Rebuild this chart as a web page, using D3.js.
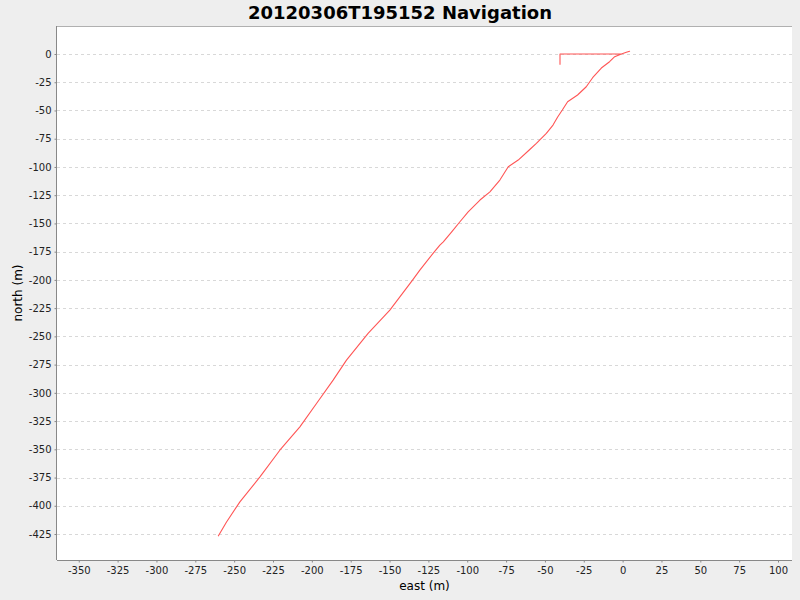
<!DOCTYPE html>
<html>
<head>
<meta charset="utf-8">
<script src="https://cdn.jsdelivr.net/npm/d3@7"></script>
<style>
  body { margin: 0; background: #eeeeee; }
  text { font-family: "DejaVu Sans", sans-serif; }
</style>
</head>
<body>
<div id="chart"></div>
<script>
// Track, east (m) and north (m), in drawing order.
var east = [-40.3, -40.3, -0.8, 2.4, 4.5, 2.4, -0.8, -5.1, -8.4, -13.7, -19.3, -23.4, -29.0, -35.4, -38.8,
  -41.8, -44.8, -49.1, -55.5, -60.1, -67.2, -73.6, -79.0, -85.4, -91.8, -99.4, -104.7, -110.0, -115.4,
  -117.6, -122.0, -130.5, -135.2, -149.8, -163.8, -177.7, -186.3, -197.0, -207.7, -220.6, -233.4, -246.3,
  -254.9, -260.3];
var north = [-9.5, 0, 0, 1.5, 2.4, 1.5, 0, -2.4, -6.8, -12.4, -21.0, -29.0, -36.3, -42.2, -49.6,
  -55.8, -62.9, -70.2, -79.1, -85.0, -93.9, -99.8, -111.6, -122.0, -129.3, -139.7, -148.5, -157.4, -166.3,
  -169.2, -176.5, -191.3, -200.2, -226.7, -247.4, -271.0, -288.7, -309.4, -330.1, -350.8, -374.4, -396.5,
  -414.3, -426.9];
var xTicks = d3.range(-350, 101, 25);
var yTicks = d3.range(0, -426, -25);

var width = 800, height = 600;
var margin = {top: 26, right: 8, bottom: 40, left: 57};

var svg = d3.select("#chart").append("svg")
    .attr("width", width)
    .attr("height", height);

svg.append("rect")
    .attr("width", width)
    .attr("height", height)
    .attr("fill", "#eeeeee");

var x = d3.scaleLinear()
    .domain([-364, 109])
    .range([margin.left, width - margin.right]);

var y = d3.scaleLinear()
    .domain([24.8, -448])
    .range([margin.top, height - margin.bottom]);

// plot background
svg.append("rect")
    .attr("x", margin.left)
    .attr("y", margin.top)
    .attr("width", width - margin.left - margin.right)
    .attr("height", height - margin.top - margin.bottom)
    .attr("fill", "#ffffff");

// horizontal grid only
svg.append("g").selectAll("line")
    .data(yTicks)
  .enter().append("line")
    .attr("x1", margin.left)
    .attr("x2", width - margin.right)
    .attr("y1", function(d) { return Math.round(y(d)) + 0.5; })
    .attr("y2", function(d) { return Math.round(y(d)) + 0.5; })
    .attr("stroke", "#d8d8d8")
    .attr("stroke-dasharray", "3,3");

// top outline
svg.append("line")
    .attr("x1", margin.left)
    .attr("x2", width - margin.right)
    .attr("y1", margin.top + 0.5)
    .attr("y2", margin.top + 0.5)
    .attr("stroke", "#b0b0b0");

// track
var line = d3.line()
    .x(function(d) { return x(east[d]); })
    .y(function(d) { return y(north[d]); });

svg.append("path")
    .datum(d3.range(east.length))
    .attr("d", line)
    .attr("fill", "none")
    .attr("stroke", "#ff5555")
    .attr("stroke-width", 1.1)
    .attr("stroke-linejoin", "round");

// axes
var xAxis = svg.append("g")
    .attr("transform", "translate(0," + (height - margin.bottom + 0.5) + ")")
    .call(d3.axisBottom(x).tickValues(xTicks).tickSize(2).tickPadding(4.5)
      .tickSizeOuter(0));

var yAxis = svg.append("g")
    .attr("transform", "translate(" + (margin.left - 0.5) + ",0)")
    .call(d3.axisLeft(y).tickValues(yTicks).tickSize(2).tickPadding(3)
      .tickSizeOuter(0));

[xAxis, yAxis].forEach(function(a) {
  a.selectAll("path, line").attr("stroke", "#888888");
  a.selectAll("text")
      .attr("fill", "#222222")
      .style("font-size", "10px")
      .style("font-family", "DejaVu Sans, sans-serif");
});
// d3 formats negatives with a minus sign; the picture uses a hyphen
svg.selectAll(".tick text").text(function(d) { return String(d); });
yAxis.select(".domain").attr("d", "M0," + margin.top + "V" + (height - margin.bottom));
xAxis.select(".domain").attr("d", "M" + margin.left + ",0H" + (width - margin.right));

// labels
svg.append("text")
    .attr("x", width / 2)
    .attr("y", 19)
    .attr("text-anchor", "middle")
    .style("font-size", "18px")
    .style("font-weight", "bold")
    .attr("fill", "#000000")
    .text("20120306T195152 Navigation");

svg.append("text")
    .attr("x", (margin.left + width - margin.right) / 2)
    .attr("y", 590)
    .attr("text-anchor", "middle")
    .style("font-size", "12px")
    .attr("fill", "#000000")
    .text("east (m)");

svg.append("text")
    .attr("transform", "translate(22," + ((margin.top + height - margin.bottom) / 2) + ") rotate(-90)")
    .attr("text-anchor", "middle")
    .style("font-size", "12px")
    .attr("fill", "#000000")
    .text("north (m)");
</script>
</body>
</html>
